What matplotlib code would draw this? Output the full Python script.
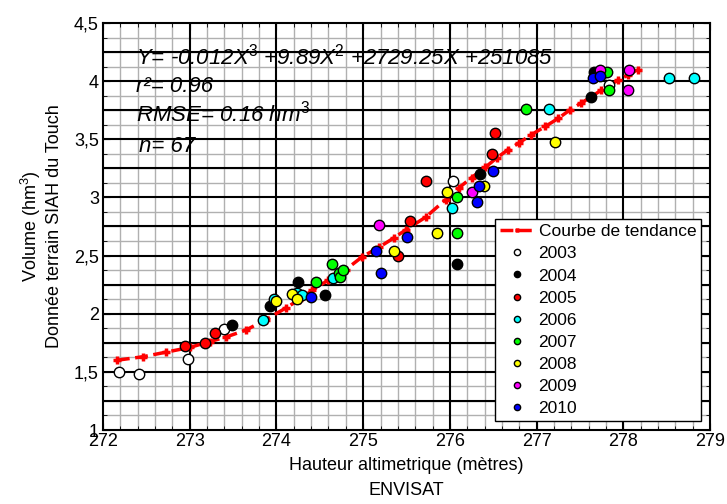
import numpy as np
import matplotlib
matplotlib.use("Agg")
import matplotlib.pyplot as plt
from matplotlib.ticker import MultipleLocator, FuncFormatter

plt.rcParams['font.family'] = ['Liberation Sans', 'DejaVu Sans']
plt.rcParams['mathtext.fontset'] = 'custom'
plt.rcParams['mathtext.rm'] = 'Liberation Sans'
plt.rcParams['mathtext.it'] = 'Liberation Sans:italic'

# %%
# Points, one (height, volume) set per year
years = ["2003", "2004", "2005", "2006", "2007", "2008", "2009", "2010"]
colors = ["white", "black", "red", "cyan", "#00ff00", "yellow", "magenta", "blue"]

x2003 = [272.18, 272.41, 272.98, 273.39, 276.04, 277.84]
y2003 = [1.50, 1.48, 1.61, 1.87, 3.14, 3.97]
x2004 = [273.49, 273.92, 274.25, 274.56, 276.08, 276.35, 277.63, 277.66]
y2004 = [1.90, 2.07, 2.27, 2.16, 2.43, 3.20, 3.86, 4.08]
x2005 = [272.94, 273.18, 273.29, 275.40, 275.54, 275.73, 276.48, 276.52]
y2005 = [1.72, 1.75, 1.83, 2.50, 2.80, 3.14, 3.37, 3.55]
x2006 = [273.85, 273.97, 274.24, 274.30, 274.65, 276.02, 277.14, 278.53, 278.82]
y2006 = [1.95, 2.13, 2.18, 2.16, 2.31, 2.91, 3.76, 4.03, 4.03]
x2007 = [274.46, 274.64, 274.72, 274.73, 274.77, 276.08, 276.08, 276.88, 277.81, 277.83]
y2007 = [2.27, 2.43, 2.35, 2.32, 2.38, 2.69, 3.00, 3.76, 4.08, 3.92]
x2008 = [274.00, 274.18, 274.24, 275.35, 275.85, 275.97, 276.39, 277.21]
y2008 = [2.11, 2.17, 2.13, 2.54, 2.69, 3.05, 3.10, 3.48]
x2009 = [275.18, 276.25, 277.73, 278.05, 278.07]
y2009 = [2.76, 3.05, 4.10, 3.92, 4.10]
x2010 = [274.40, 275.15, 275.21, 275.51, 276.31, 276.33, 276.50, 277.65, 277.73]
y2010 = [2.14, 2.54, 2.35, 2.66, 2.96, 3.10, 3.23, 4.03, 4.04]

xs = [x2003, x2004, x2005, x2006, x2007, x2008, x2009, x2010]
ys = [y2003, y2004, y2005, y2006, y2007, y2008, y2009, y2010]

# Trend curve
trend_x = [272.16, 272.46, 272.73, 273.00, 273.23, 273.42, 273.65, 273.88,
           274.11, 274.26, 274.41, 274.60, 274.80, 274.99, 275.18, 275.35,
           275.49, 275.72, 275.95, 276.10, 276.25, 276.41, 276.54, 276.67,
           276.80, 276.94, 277.10, 277.25, 277.38, 277.51, 277.62, 277.74,
           277.84, 277.94, 278.05, 278.17]
trend_y = [1.60, 1.63, 1.67, 1.71, 1.76, 1.80, 1.86, 1.95,
           2.05, 2.12, 2.20, 2.29, 2.38, 2.49, 2.57, 2.65,
           2.72, 2.83, 2.98, 3.08, 3.17, 3.26, 3.34, 3.41,
           3.47, 3.54, 3.61, 3.68, 3.75, 3.81, 3.86, 3.92,
           3.96, 4.01, 4.05, 4.10]

# %%
fig = plt.figure(figsize=(7.27, 5.04), dpi=100)
ax = fig.add_axes([0.1417, 0.1468, 0.835, 0.8076])

ax.plot(trend_x, trend_y, color="red", linestyle="--", linewidth=2.5,
        marker="+", markersize=6, markeredgewidth=2.5,
        label="Courbe de tendance", zorder=3)

for yr, c, xx, yy in zip(years, colors, xs, ys):
    ax.plot(xx, yy, linestyle="none", marker="o", markersize=7.5,
            markerfacecolor=c, markeredgecolor="black", markeredgewidth=1,
            label=yr, zorder=4)

ax.set_xlim(272, 279)
ax.set_ylim(1, 4.5)
ax.xaxis.set_major_locator(MultipleLocator(1))
ax.xaxis.set_minor_locator(MultipleLocator(0.2))
ax.yaxis.set_major_locator(MultipleLocator(0.5))
ax.yaxis.set_minor_locator(MultipleLocator(0.125))
ax.yaxis.set_major_formatter(FuncFormatter(lambda v, p: ("%g" % v).replace(".", ",")))

# grid: thick black lines every 1 in x and 0.25 in y, grey in between
ax.grid(which="minor", color="#b0b0b0", linewidth=1)
ax.set_axisbelow(True)
for v in np.arange(273, 279, 1):
    ax.axvline(v, color="black", linewidth=1.5, zorder=1)
for v in np.arange(1.25, 4.5, 0.25):
    ax.axhline(v, color="black", linewidth=1.5, zorder=1)

ax.tick_params(which="both", direction="in", top=True, right=True, labelsize=13)
ax.tick_params(axis="y", pad=3)
ax.tick_params(axis="x", pad=2)
ax.tick_params(which="major", length=5)
ax.tick_params(which="minor", length=3)
for s in ax.spines.values():
    s.set_linewidth(1.5)

ax.set_xlabel("Hauteur altimetrique (mètres)\nENVISAT", fontsize=13, labelpad=5,
              linespacing=1.6)
ax.set_ylabel("Volume (hm$^3$)\nDonnée terrain SIAH du Touch", fontsize=13,
              labelpad=8)

txt_kw = dict(fontsize=16, style="italic", transform=ax.transData)
ax.text(272.38, 4.147, r"Y= -0.012X$^{\mathit{3}}$ +9.89X$^{\mathit{2}}$ +2729.25X +251085", **txt_kw)
ax.text(272.38, 3.906, "r²= 0.96", **txt_kw)
ax.text(272.38, 3.65, r"RMSE= 0.16 hm$^{\mathit{3}}$", **txt_kw)
ax.text(272.42, 3.39, "n= 67", **txt_kw)

leg = ax.legend(loc="lower right", fontsize=12.5, markerscale=0.6, fancybox=False,
                edgecolor="black", framealpha=1, handlelength=1.9, handletextpad=0.3,
                borderaxespad=0.5, labelspacing=0.4, borderpad=0.3)
leg.get_frame().set_linewidth(1)

fig.savefig("out.png", dpi=100)
